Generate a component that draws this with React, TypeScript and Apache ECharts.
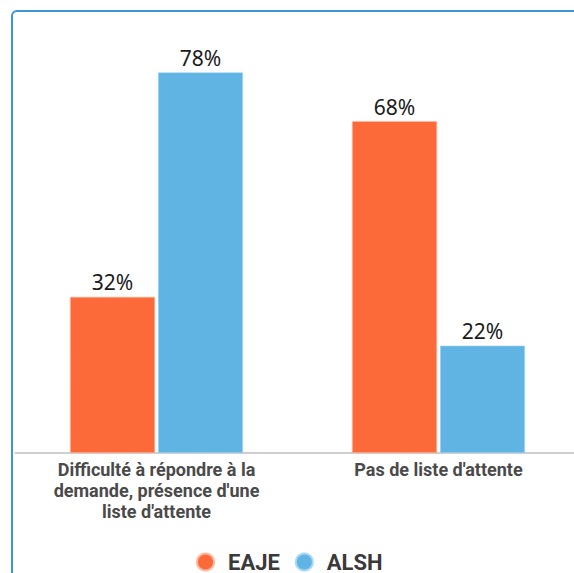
import React, { useEffect, useRef } from "react";
import * as echarts from "echarts";

const categories = [
  "Difficulté à répondre à la\ndemande, présence d'une\nliste d'attente",
  "Pas de liste d'attente",
];
const seriesNames = ["EAJE", "ALSH"];
const eajeValues = [32, 68];
const alshValues = [78, 22];
const colors = ["#fd6a3a", "#5fb4e3"];

export default function App() {
  const ref = useRef<HTMLDivElement>(null);
  useEffect(() => {
    if (!ref.current) return;
    const chart = echarts.init(ref.current, null, { renderer: "svg" });
    const labelStyle = {
      show: true,
      position: "top",
      distance: 4,
      fontSize: 21,
      fontFamily: "Noto Sans",
      color: "#1a1a1a",
      formatter: "{c}%",
    };
    chart.setOption({
      animation: false,
      color: colors,
      grid: { left: 15.5, right: 40.5, top: 62.6, bottom: 147 },
      legend: {
        data: seriesNames,
        left: 196,
        top: 551,
        padding: 0,
        icon: "circle",
        itemWidth: 17,
        itemHeight: 17,
        itemGap: 15,
        textStyle: {
          fontSize: 22,
          fontFamily: "Roboto",
          fontWeight: "bold",
          color: "#3a3a3a",
          padding: [0, 0, 0, 9],
        },
      },
      xAxis: {
        type: "category",
        data: categories,
        axisLine: { show: true, lineStyle: { color: "#cfcfcf", width: 2 } },
        axisTick: { show: false },
        axisLabel: {
          interval: 0,
          margin: 6,
          fontSize: 18,
          lineHeight: 21,
          fontFamily: "Roboto",
          fontWeight: "bold",
          color: "#4a4a4a",
        },
      },
      yAxis: {
        type: "value",
        min: 0,
        max: 80,
        show: false,
        splitLine: { show: false },
      },
      series: [
        {
          name: seriesNames[0],
          type: "bar",
          data: eajeValues,
          barWidth: 85,
          barGap: "3.5%",
          itemStyle: { borderColor: "#ffb89f", borderWidth: 0.6 },
          label: labelStyle,
        },
        {
          name: seriesNames[1],
          type: "bar",
          data: alshValues,
          barWidth: 85,
          barGap: "3.5%",
          itemStyle: { borderColor: "#a9d8f2", borderWidth: 0.6 },
          label: labelStyle,
        },
      ],
    });
    return () => chart.dispose();
  }, []);
  return (
    <div
      style={{
        position: "fixed",
        left: 0,
        top: 0,
        width: 574,
        height: 573,
        overflow: "hidden",
        background: "#fff",
      }}
    >
      <div
        style={{
          position: "absolute",
          left: 11,
          top: 10,
          width: 640,
          height: 640,
          border: "2px solid #3d94d6",
          borderRadius: 6,
          boxSizing: "border-box",
        }}
      />
      <div
        ref={ref}
        style={{ position: "absolute", left: 0, top: 0, width: 620, height: 600 }}
      />
    </div>
  );
}
